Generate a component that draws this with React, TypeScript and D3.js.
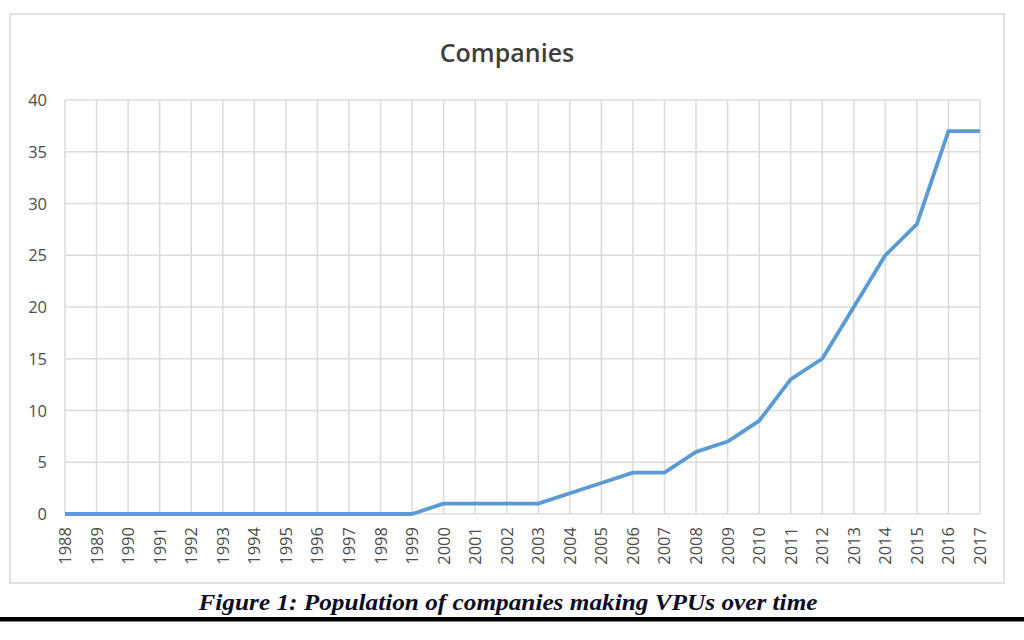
import React from "react";
import * as d3 from "d3";

const years: number[] = d3.range(1988, 2018);
const companies: number[] = [0,0,0,0,0,0,0,0,0,0,0,0,1,1,1,1,2,3,4,4,6,7,9,13,15,20,25,28,37,37];
const yTicks: number[] = [0,5,10,15,20,25,30,35,40];
const title = "Companies";
const caption = "Figure 1: Population of companies making VPUs over time";

export default function App() {
  const W = 1024, H = 640;
  const x = d3.scaleLinear().domain([1988, 2017]).range([65, 980]);
  const y = d3.scaleLinear().domain([0, 40]).range([514, 100]);
  const line = d3.line<number>().x((_, i) => x(years[i])).y(d => y(d));
  const grid = "#dcdcdc";
  const txt = "#4d4d4d";
  return (
    <svg width={W} height={H} style={{ position: "absolute", left: 0, top: 0 }}>
      <rect x={0} y={0} width={W} height={H} fill="#fff" />
      <rect x={10} y={14} width={994} height={569} fill="#fff" stroke="#d9d9d9" strokeWidth={1.5} />
      <text x={507} y={62} textAnchor="middle" fontFamily="'Open Sans', sans-serif" fontWeight={600} fontSize={25} fill="#404040">{title}</text>
      {yTicks.map(t => (
        <g key={"y" + t}>
          <line x1={65} x2={980} y1={y(t)} y2={y(t)} stroke={grid} strokeWidth={1.6} />
          <text x={47} y={y(t) + 6} textAnchor="end" fontFamily="'Open Sans', sans-serif" fontSize={16.5} fill={txt}>{t}</text>
        </g>
      ))}
      {years.map(yr => (
        <g key={"x" + yr}>
          <line x1={x(yr)} x2={x(yr)} y1={100} y2={514} stroke={grid} strokeWidth={1.6} />
          <text transform={`translate(${x(yr) + 6},527) rotate(-90)`} textAnchor="end" fontFamily="'Open Sans', sans-serif" fontSize={16.5} fill={txt}>{yr}</text>
        </g>
      ))}
      <path d={line(companies) || ""} fill="none" stroke="#5b9bd5" strokeWidth={3.8} strokeLinejoin="round" />
      <text x={508} y={610} textAnchor="middle" textLength={619} lengthAdjust="spacingAndGlyphs" fontFamily="'Liberation Serif', 'Times New Roman', serif" fontWeight="bold" fontStyle="italic" fontSize={24} fill="#0d0d26">{caption}</text>
      <rect x={0} y={617} width={W} height={4.5} fill="#000" />
    </svg>
  );
}
